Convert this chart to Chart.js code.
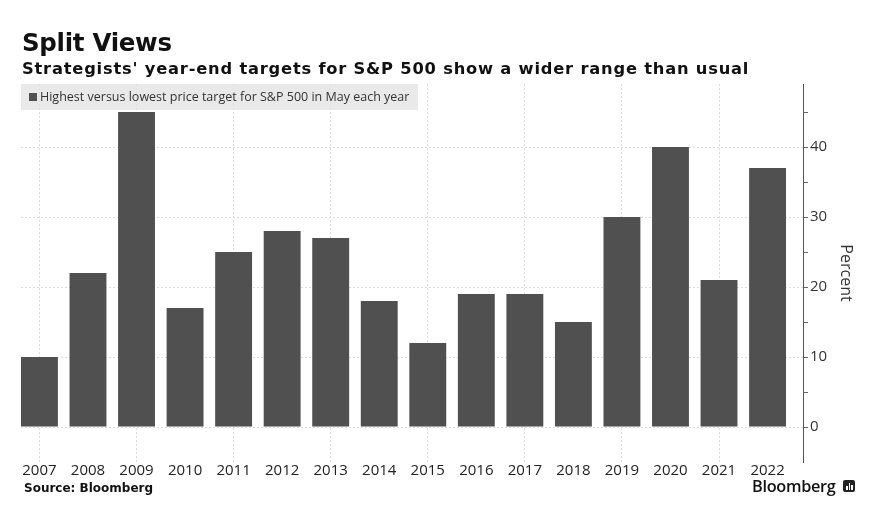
<!DOCTYPE html>
<html>
<head>
<meta charset="utf-8">
<script src="https://cdn.jsdelivr.net/npm/chart.js@4.4.1/dist/chart.umd.min.js"></script>
<style>
  body { margin: 0; background: #fff; }
  #wrap { position: relative; width: 874px; height: 519px; overflow: hidden; }
  #chart { position: absolute; left: 0; top: 0; }
  .title { position: absolute; left: 22px; top: 28px; font: bold 24.5px "DejaVu Sans", sans-serif; color: #111; letter-spacing: -0.3px; }
  .subtitle { position: absolute; left: 22px; top: 59px; font: bold 16.3px "DejaVu Sans", sans-serif; color: #111; letter-spacing: 0.8px; }
  .source { position: absolute; left: 24px; top: 481px; font: bold 12px "DejaVu Sans", sans-serif; color: #111; }
  .brand { position: absolute; left: 752px; top: 475px; font: 600 16.3px "Open Sans", sans-serif; color: #111; letter-spacing: -0.3px; }
  .icon { position: absolute; left: 843px; top: 480px; width: 12px; height: 12px; background: #222; border-radius: 2px; }
  .icon i { position: absolute; bottom: 2px; width: 1.5px; background: #fff; }
</style>
</head>
<body>
<div id="wrap">
  <canvas id="chart" width="874" height="519"></canvas>
  <div class="title">Split Views</div>
  <div class="subtitle">Strategists' year-end targets for S&amp;P 500 show a wider range than usual</div>
  <div class="source">Source: Bloomberg</div>
  <div class="brand">Bloomberg</div>
  <div class="icon"><i style="left:3px;height:4px"></i><i style="left:5.5px;height:7px"></i><i style="left:8px;height:5px"></i></div>
</div>
<script>
// data
const years = [2007, 2008, 2009, 2010, 2011, 2012, 2013, 2014, 2015, 2016, 2017, 2018, 2019, 2020, 2021, 2022];
const spread = [10, 22, 45, 17, 25, 28, 27, 18, 12, 19, 19, 15, 30, 40, 21, 37];
const yTicks = [0, 5, 10, 15, 20, 25, 30, 35, 40, 45];
const seriesLabel = 'Highest versus lowest price target for S&P 500 in May each year';

const barColor = '#505050';

// grey legend strip at the top of the plot
const legendBox = {
    id: 'legendBox',
    afterDraw(chart) {
        const ctx = chart.ctx;
        const a = chart.chartArea;
        ctx.save();
        ctx.fillStyle = 'rgba(225,225,225,0.75)';
        ctx.fillRect(a.left, a.top, 397, 26);
        ctx.fillStyle = barColor;
        ctx.fillRect(a.left + 8, a.top + 9, 8, 8);
        ctx.fillStyle = '#333';
        ctx.font = '12.5px "Open Sans", sans-serif';
        ctx.textBaseline = 'middle';
        ctx.fillText(seriesLabel, a.left + 19, a.top + 13.5);
        ctx.restore();
    }
};

const ctx = document.getElementById('chart').getContext('2d');
new Chart(ctx, {
    type: 'bar',
    data: {
        datasets: [{
            label: seriesLabel,
            data: years.map((y, i) => ({ x: y, y: spread[i] })),
            backgroundColor: barColor,
            borderWidth: 0,
            categoryPercentage: 1,
            barPercentage: 0.76
        }]
    },
    options: {
        responsive: false,
        animation: false,
        layout: { padding: { left: 21, top: 84, right: 0, bottom: 35 } },
        plugins: {
            legend: { display: false },
            tooltip: { enabled: false }
        },
        scales: {
            x: {
                type: 'linear',
                offset: false,
                min: 2006.62,
                max: 2022.73,
                afterBuildTicks: scale => { scale.ticks = years.map(v => ({ value: v })); },
                afterFit: scale => { scale.height = 22; },
                ticks: {
                    padding: 0,
                    color: '#222',
                    font: { family: 'Open Sans', size: 15 },
                    callback: v => String(v),
                    maxRotation: 0,
                    autoSkip: false
                },
                grid: {
                    offset: false,
                    drawTicks: false,
                    color: c => (c.tick && (c.tick.value - 2007) % 2 === 0) ? '#dcdcdc' : 'transparent'
                },
                border: { display: false, dash: [2, 2] }
            },
            y: {
                position: 'right',
                min: -5,
                max: 49,
                afterBuildTicks: scale => { scale.ticks = yTicks.map(v => ({ value: v })); },
                afterFit: scale => { scale.width = 71; },
                ticks: {
                    padding: 2,
                    color: '#333',
                    font: { family: 'Open Sans', size: 15 },
                    callback: v => v % 10 === 0 ? String(v) : ''
                },
                grid: {
                    tickLength: 5,
                    tickColor: '#666',
                    color: c => (c.tick && c.tick.value % 10 === 0) ? '#dcdcdc' : 'transparent'
                },
                border: { color: '#555', width: 1, dash: [2, 2] },
                title: {
                    display: true,
                    text: 'Percent',
                    color: '#333',
                    font: { family: 'Open Sans', size: 16 },
                    padding: { top: 19, bottom: 0 }
                }
            }
        }
    },
    plugins: [legendBox]
});
</script>
</body>
</html>
